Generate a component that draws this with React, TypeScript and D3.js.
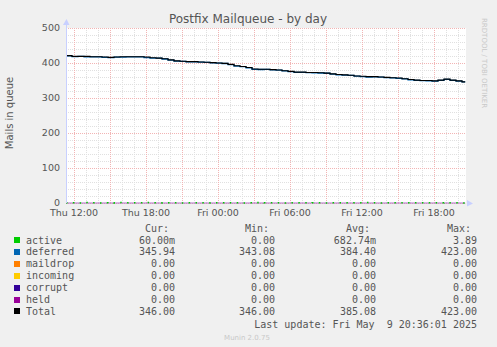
import React, { useEffect, useRef } from "react";
import * as d3 from "d3";

// mail queue, 30 min samples starting Thu 11:20
const total = [
  421, 419, 419, 419, 418, 418, 417, 416, 417, 418, 418, 418, 418, 417, 415, 414, 412,
  409, 406, 405, 404, 404, 403, 402, 401, 400, 399, 396, 392, 390, 387, 383, 382, 382,
  381, 380, 378, 376, 374, 374, 373, 373, 372, 371, 369, 367, 366, 365, 363, 362, 361,
  361, 360, 359, 358, 357, 355, 353, 351, 350, 350, 349, 351, 354, 351, 349, 346,
];
const active = [
  0.4, 0.8, 0.2, 1.2, 0.6, 0.3, 0.9, 0.5, 0.2, 1.1, 0.7, 0.4, 0.6, 1.4, 0.8, 0.3, 0.5,
  0.9, 0.6, 0.2, 0.7, 1.0, 0.5, 0.3, 0.8, 0.6, 0.4, 0.9, 0.7, 0.3, 0.5, 1.2, 0.6, 0.4,
  0.8, 0.5, 0.3, 0.9, 0.6, 0.7, 0.4, 1.0, 0.5, 0.3, 0.8, 0.6, 0.9, 0.4, 0.5, 0.7, 1.1,
  0.6, 0.3, 0.8, 0.5, 0.7, 0.4, 0.9, 0.6, 0.5, 1.0, 0.7, 0.4, 0.8, 0.6, 0.5, 0.06,
];

const legendNames = ["active", "deferred", "maildrop", "incoming", "corrupt", "held", "Total"];
const legendColors = ["#00cc00", "#0066b3", "#ff8000", "#ffcc00", "#330099", "#990099", "#000000"];
const curValues = ["60.00m", "345.94", "0.00", "0.00", "0.00", "0.00", "346.00"];
const minValues = ["0.00", "343.08", "0.00", "0.00", "0.00", "0.00", "346.00"];
const avgValues = ["682.74m", "384.40", "0.00", "0.00", "0.00", "0.00", "385.08"];
const maxValues = ["3.89", "423.00", "0.00", "0.00", "0.00", "0.00", "423.00"];
const yTicks = [0, 100, 200, 300, 400, 500];

const W = 497;
const H = 347;

const App = () => {
  const ref = useRef(null);

  useEffect(() => {
    const svg = d3.select(ref.current);
    svg.selectAll("*").remove();

    const left = 66, right = 466, top = 28, bottom = 203;
    const start = new Date(2025, 4, 8, 11, 20);
    const end = new Date(2025, 4, 9, 20, 40);
    const x = d3.scaleTime().domain([start, end]).range([left, right]);
    const y = d3.scaleLinear().domain([0, 500]).range([bottom, top]);

    svg.append("rect").attr("width", W).attr("height", H).attr("fill", "#f0f0f0");
    svg.append("rect").attr("x", left).attr("y", top).attr("width", right - left)
      .attr("height", bottom - top).attr("fill", "#ffffff");

    const grid = svg.append("g").attr("shape-rendering", "crispEdges");
    // minor grid
    d3.range(0, 501, 20).filter((v) => v % 100 !== 0).forEach((v) => {
      grid.append("line").attr("x1", left).attr("x2", right)
        .attr("y1", Math.round(y(v)) + 0.5).attr("y2", Math.round(y(v)) + 0.5)
        .attr("stroke", "#e0e0e0").attr("stroke-dasharray", "1,1");
    });
    const hours = d3.timeHour.range(start, end);
    hours.filter((h) => h.getHours() % 3 !== 0).forEach((h) => {
      grid.append("line").attr("y1", top).attr("y2", bottom)
        .attr("x1", Math.round(x(h)) + 0.5).attr("x2", Math.round(x(h)) + 0.5)
        .attr("stroke", "#e0e0e0").attr("stroke-dasharray", "1,1");
    });
    // major grid
    yTicks.forEach((v) => {
      grid.append("line").attr("x1", left).attr("x2", right)
        .attr("y1", Math.round(y(v)) + 0.5).attr("y2", Math.round(y(v)) + 0.5)
        .attr("stroke", "#f2b4b4").attr("stroke-dasharray", "1,1");
    });
    hours.filter((h) => h.getHours() % 3 === 0).forEach((h) => {
      grid.append("line").attr("y1", top).attr("y2", bottom)
        .attr("x1", Math.round(x(h)) + 0.5).attr("x2", Math.round(x(h)) + 0.5)
        .attr("stroke", "#f2b4b4").attr("stroke-dasharray", "1,1");
    });

    const times = total.map((_, i) => new Date(start.getTime() + i * 30 * 60000));
    const lastTime = new Date(2025, 4, 9, 20, 36);
    const withEnd = (arr) => [...arr.map((v, i) => [times[i], v]), [lastTime, arr[arr.length - 1]]];
    const line = d3.line().x((d) => x(d[0])).y((d) => y(d[1])).curve(d3.curveStepAfter);

    const zeros = total.map(() => 0);
    svg.append("path").attr("d", line(withEnd(zeros))).attr("fill", "none")
      .attr("stroke", "#b070c8").attr("stroke-width", 1.2);
    svg.append("path").attr("d", line(withEnd(active))).attr("fill", "none")
      .attr("stroke", "#00cc00").attr("stroke-width", 1.5).attr("stroke-dasharray", "1.5,5.5");
    const deferred = total.map((v, i) => v - active[i]);
    svg.append("path").attr("d", line(withEnd(deferred))).attr("fill", "none")
      .attr("stroke", "#0066b3").attr("stroke-width", 1.3);
    svg.append("path").attr("d", line(withEnd(total))).attr("fill", "none")
      .attr("stroke", "#000000").attr("stroke-width", 1.1);

    // axes
    const axisColor = "#c8d0ff";
    svg.append("line").attr("x1", left + 0.5).attr("x2", left + 0.5).attr("y1", bottom)
      .attr("y2", top - 4).attr("stroke", axisColor);
    svg.append("path").attr("d", `M${left - 3},${top - 3}L${left + 3.5},${top - 3}L${left + 0.5},${top - 9}Z`)
      .attr("fill", axisColor);
    svg.append("path").attr("d", `M${right + 1},${bottom - 3}L${right + 1},${bottom + 3.5}L${right + 7},${bottom + 0.5}Z`)
      .attr("fill", axisColor);

    const tickFont = "DejaVu Sans, sans-serif";
    yTicks.forEach((v) => {
      svg.append("text").attr("x", 60).attr("y", y(v) - 0.5).attr("dy", "0.35em")
        .attr("text-anchor", "end").attr("font-family", tickFont).attr("font-size", 9.5)
        .attr("fill", "#555").text(v);
    });
    const fmt = d3.timeFormat("%a %H:%M");
    hours.filter((h) => h.getHours() % 6 === 0).forEach((h) => {
      svg.append("text").attr("x", x(h)).attr("y", 213).attr("dy", "0.35em")
        .attr("text-anchor", "middle").attr("font-family", tickFont).attr("font-size", 9.5)
        .attr("fill", "#555").text(fmt(h));
    });

    svg.append("text").attr("x", 248).attr("y", 23).attr("text-anchor", "middle")
      .attr("font-family", tickFont).attr("font-size", 12).attr("fill", "#555")
      .text("Postfix Mailqueue - by day");
    svg.append("text").attr("transform", "translate(13,113) rotate(-90)")
      .attr("text-anchor", "middle").attr("font-family", tickFont).attr("font-size", 10)
      .attr("fill", "#555").text("Mails in queue");
    svg.append("text").attr("transform", "translate(482,18) rotate(90)")
      .attr("font-family", tickFont).attr("font-size", 7).attr("fill", "#c8c8c8")
      .text("RRDTOOL / TOBI OETIKER");

    // legend
    const mono = "DejaVu Sans Mono, monospace";
    const cols = [
      { head: "Cur:", vals: curValues, x: 175 },
      { head: "Min:", vals: minValues, x: 275 },
      { head: "Avg:", vals: avgValues, x: 376 },
      { head: "Max:", vals: maxValues, x: 477 },
    ];
    const lg = svg.append("g").attr("font-family", mono).attr("font-size", 10).attr("fill", "#555");
    cols.forEach((c) => {
      lg.append("text").attr("x", c.x - 6).attr("y", 228).attr("dy", "0.35em")
        .attr("text-anchor", "end").text(c.head);
    });
    legendNames.forEach((name, i) => {
      const cy = 240 + i * 11.9;
      lg.append("rect").attr("x", 14).attr("y", Math.round(cy - 3)).attr("width", 6).attr("height", 6)
        .attr("fill", legendColors[i]);
      lg.append("text").attr("x", 26).attr("y", cy).attr("dy", "0.35em").text(name);
      cols.forEach((c) => {
        lg.append("text").attr("x", c.x).attr("y", cy).attr("dy", "0.35em")
          .attr("text-anchor", "end").text(c.vals[i]);
      });
    });
    lg.append("text").attr("x", 477).attr("y", 324).attr("dy", "0.35em")
      .attr("text-anchor", "end").attr("xml:space", "preserve").style("white-space", "pre")
      .text("Last update: Fri May  9 20:36:01 2025");
    svg.append("text").attr("x", 247).attr("y", 338).attr("dy", "0.35em")
      .attr("text-anchor", "middle").attr("font-family", tickFont).attr("font-size", 7)
      .attr("fill", "#c8c8c8").text("Munin 2.0.75");
  }, []);

  return (
    <svg ref={ref} width={W} height={H}
      style={{ position: "absolute", left: 0, top: 0, display: "block" }} />
  );
};

export default App;
